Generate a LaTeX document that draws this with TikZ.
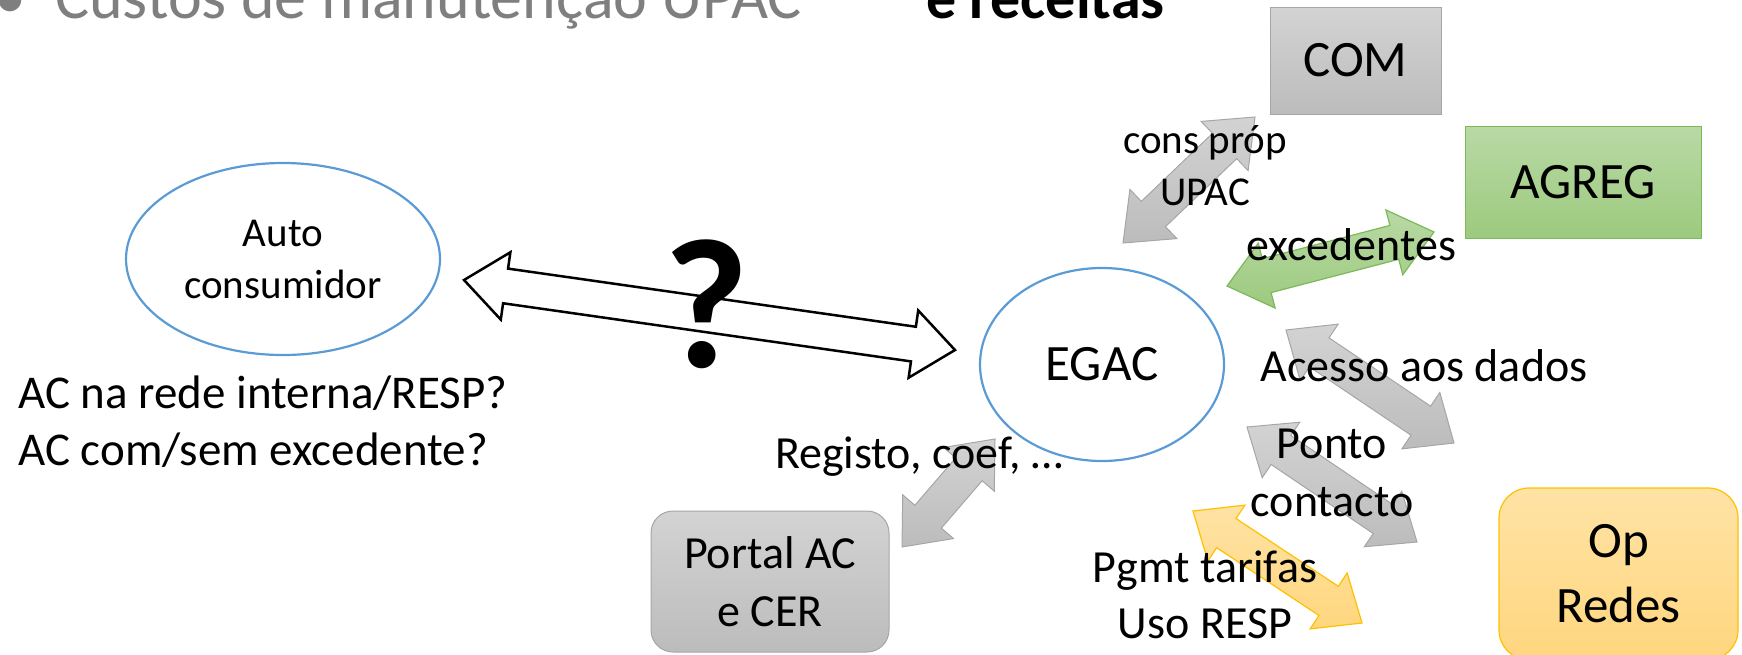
\documentclass[tikz,border=0pt]{standalone}
\usepackage{fontspec}
\setmainfont{Carlito}
\usetikzlibrary{calc,shapes.geometric}
\definecolor{ellblue}{HTML}{5B9BD5}
\definecolor{hdrgray}{HTML}{7F7F7F}
\definecolor{grayTop}{HTML}{D3D3D3}
\definecolor{grayBot}{HTML}{BCBCBC}
\definecolor{grayLine}{HTML}{A6A6A6}
\definecolor{greenTop}{HTML}{B9D9A5}
\definecolor{greenBot}{HTML}{9CCA7E}
\definecolor{greenLine}{HTML}{7DB85A}
\definecolor{yelTop}{HTML}{FFE3A5}
\definecolor{yelBot}{HTML}{FFD67E}
\definecolor{yelLine}{HTML}{FFC000}

% fat double arrow: [style]{start}{end}{head length}{head half-width}{shaft half-width}
\newcommand{\fatarrow}[6][]{%
  \coordinate (faP) at ($(#2)!#4!(#3)$);
  \coordinate (faQ) at ($(#3)!#4!(#2)$);
  \draw[#1] (#2) -- ($(faP)!#5!90:(#3)$) -- ($(faP)!#6!90:(#3)$)
    -- ($(faQ)!#6!-90:(#2)$) -- ($(faQ)!#5!-90:(#2)$) -- (#3)
    -- ($(faQ)!#5!90:(#2)$) -- ($(faQ)!#6!90:(#2)$)
    -- ($(faP)!#6!-90:(#3)$) -- ($(faP)!#5!-90:(#3)$) -- cycle;
}

\tikzset{
  grayarrow/.style={draw=grayLine, line width=1pt, top color=grayTop, bottom color=grayBot},
  greenarrow/.style={draw=greenLine, line width=1.2pt, top color=greenTop, bottom color=greenBot},
  yelarrow/.style={draw=yelLine, line width=1.2pt, top color=yelTop, bottom color=yelBot},
  outarrow/.style={draw=black, line width=2.5pt, fill=white},
  ellnode/.style={ellipse, draw=ellblue, line width=2.2pt, fill=white, inner sep=0pt, align=center},
  graybox/.style={rectangle, draw=grayLine, line width=1pt, top color=grayTop, bottom color=grayBot, inner sep=0pt, align=center},
  greenbox/.style={rectangle, draw=greenLine, line width=1pt, top color=greenTop, bottom color=greenBot, inner sep=0pt, align=center},
  yelbox/.style={rectangle, draw=yelLine, line width=1.2pt, top color=yelTop, bottom color=yelBot, inner sep=0pt, align=center},
  bigfont/.style={font=\fontsize{51}{65}\selectfont},
  lbl/.style={inner sep=0pt, anchor=base, align=center, font=\fontsize{46}{57}\selectfont},
}

\begin{document}
\begin{tikzpicture}[x=1pt, y=-1pt]
\useasboundingbox (0,0) rectangle (1742,654);
\clip (0,0) rectangle (1742,654);

% arrow end points
\coordinate (bigA) at (464,280);
\coordinate (bigB) at (955,350);
\coordinate (comA) at (1123,243);
\coordinate (comB) at (1255,117);
\coordinate (excA) at (1227,286);
\coordinate (excB) at (1434,232);
\coordinate (accA) at (1286,330);
\coordinate (accB) at (1454,443);
\coordinate (ponA) at (1247,427);
\coordinate (ponB) at (1417,542);
\coordinate (pgmA) at (1193,511);
\coordinate (pgmB) at (1362,623);
\coordinate (regA) at (902,547);
\coordinate (regB) at (995,439);

% arrows
\fatarrow[outarrow]{bigA}{bigB}{42pt}{34pt}{17.5pt}
\fatarrow[grayarrow]{comA}{comB}{42pt}{34pt}{17.5pt}
\fatarrow[greenarrow]{excA}{excB}{41pt}{33.5pt}{17.5pt}
\fatarrow[grayarrow]{accA}{accB}{40pt}{34pt}{17.5pt}
\fatarrow[grayarrow]{ponA}{ponB}{41pt}{33.5pt}{17.5pt}
\fatarrow[yelarrow]{pgmA}{pgmB}{40pt}{33.5pt}{17.5pt}
\fatarrow[grayarrow]{regA}{regB}{40pt}{33.5pt}{17.5pt}

% header
\node[inner sep=0pt, anchor=base west, text=hdrgray, font=\fontsize{64}{72}\selectfont] (hdr) at (-6,18) {\makebox[61pt][l]{•}Custos de manutenção UPAC};
\node[inner sep=0pt, anchor=base west, font=\bfseries\fontsize{60}{70}\selectfont] (hdrb) at (926,18) {e receitas};

% boxes
\node[graybox, bigfont, minimum width=171pt, minimum height=107pt] (com) at (1355.5,60.5) {COM};
\node[greenbox, bigfont, minimum width=236pt, minimum height=112pt] (agreg) at (1583,182) {AGREG};
\node[yelbox, bigfont, rounded corners=30pt, minimum width=239pt, minimum height=172pt] (op) at (1618.5,574) {Op\\Redes};
\node[graybox, rounded corners=22pt, minimum width=238pt, minimum height=141pt, font=\fontsize{46}{58}\selectfont] (portal) at (770,581.5) {Portal AC\\e CER};

% ellipses
\node[ellnode, bigfont, minimum width=244pt, minimum height=193pt] (egac) at (1102,364.5) {EGAC};
\node[ellnode, font=\fontsize{41}{52}\selectfont, minimum width=314pt, minimum height=192pt] (auto) at (283,259) {Auto\\consumidor};

% question mark
\node[inner sep=0pt, anchor=base, font=\bfseries\fontsize{185}{200}\selectfont] (q) at (706,367) {?};

% labels (base = baseline of last line)
\node[lbl, font=\fontsize{41}{52}\selectfont] (cons) at (1205,205) {cons próp\\UPAC};
\node[lbl] (exc) at (1351,260) {excedentes};
\node[lbl] (acc) at (1424,381) {Acesso aos dados};
\node[lbl, font=\fontsize{46}{58}\selectfont] (pon) at (1332,516) {Ponto\\contacto};
\node[lbl, font=\fontsize{46}{56}\selectfont] (pgm) at (1205,638) {Pgmt tarifas\\Uso RESP};
\node[lbl] (reg) at (919,468) {Registo, coef, …};
\node[lbl, anchor=base west, align=left, font=\fontsize{47}{57}\selectfont] (acq) at (18,465) {AC na rede interna/RESP?\\AC com/sem excedente?};
\end{tikzpicture}
\end{document}
